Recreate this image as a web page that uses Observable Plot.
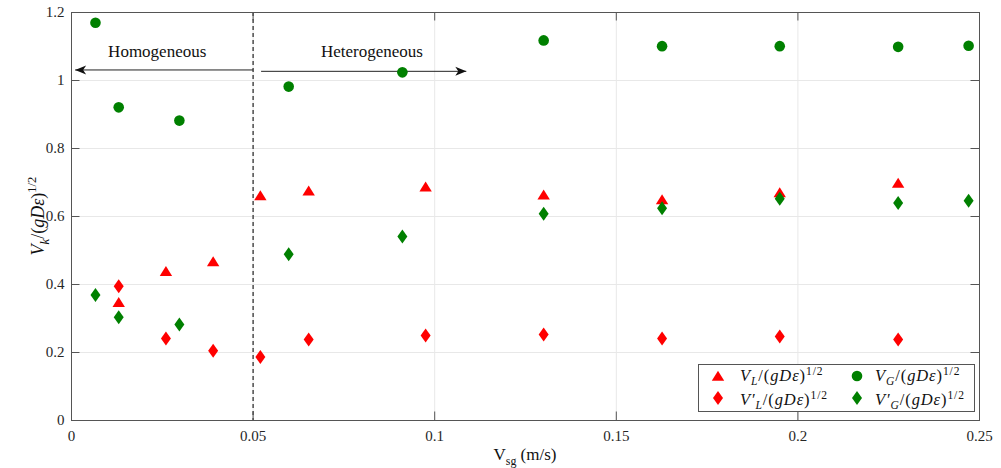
<!DOCTYPE html>
<html><head><meta charset="utf-8">
<script src="https://cdn.jsdelivr.net/npm/d3@7"></script>
<script src="https://cdn.jsdelivr.net/npm/@observablehq/plot@0.6"></script>
<style>
body{margin:0;background:#fff;}
#chart{width:1001px;height:468px;}
#chart svg, #chart svg text, #chart svg tspan{font-family:"Liberation Serif","Times New Roman","DejaVu Serif",serif !important;}
</style></head><body><div id="chart"></div>
<script>
// ---- data ----
const vgX  = [0.0066,0.013,0.0297,0.0598,0.0911,0.130,0.1626,0.195,0.2276,0.247];
const vgY  = [1.170,0.921,0.882,0.982,1.024,1.118,1.101,1.101,1.099,1.102];
const vgpY = [0.369,0.304,0.282,0.489,0.541,0.608,0.624,0.652,0.640,0.646];
const vlX  = [0.013,0.026,0.039,0.052,0.0653,0.0975,0.130,0.1626,0.195,0.2276];
const vlY  = [0.348,0.439,0.468,0.662,0.676,0.688,0.664,0.650,0.671,0.699];
const vlpY = [0.395,0.241,0.205,0.187,0.238,0.250,0.253,0.241,0.247,0.238];
const xTicks = [0,0.05,0.1,0.15,0.2,0.25];
const yTicks = [0,0.2,0.4,0.6,0.8,1,1.2];
const regimeBoundary = [0.05];
const regimeLabels = ["Homogeneous","Heterogeneous"];
const regimeLabelX = [0.0236,0.0827];
const regimeLabelY = [1.084,1.085];
const arrowFromX = [0.05,0.0522];
const arrowToX   = [0.001,0.1087];
const arrowY     = [1.031,1.027];

// ---- symbols ----
const triSym = {draw(c){c.moveTo(0,-5.2);c.lineTo(6.2,4.8);c.lineTo(-6.2,4.8);c.closePath();}};
const diaSym = {draw(c){c.moveTo(0,-7);c.lineTo(5,0);c.lineTo(0,7);c.lineTo(-5,0);c.closePath();}};
const headSym = {draw(c){c.moveTo(0,0);c.lineTo(4.5,11);c.lineTo(0,8);c.lineTo(-4.5,11);c.closePath();}};
const RED = "#ff0000", GREEN = "#008000", AX = "#555";
const FONT = '"Liberation Serif","Times New Roman",serif';

const inner = xTicks.slice(1,-1), innerY = yTicks.slice(1,-1);
const chart = Plot.plot({
  width: 1001, height: 468,
  marginLeft: 71, marginRight: 22, marginTop: 12, marginBottom: 48,
  x: {domain: [0,0.25]}, y: {domain: [0,1.2]},
  style: {fontFamily: FONT, fontSize: "15px", color: "#262626", background: "white"},
  marks: [
    Plot.gridX(inner, {stroke: "#e8e8e8", strokeOpacity: 1}),
    Plot.gridY(innerY, {stroke: "#e8e8e8", strokeOpacity: 1}),
    Plot.ruleX(regimeBoundary, {stroke: "#333", strokeWidth: 1.3, strokeDasharray: "4,3"}),
    Plot.axisX(xTicks, {tickSize: 0, tickPadding: 10, tickFormat: d => String(d), label: null, fontSize: 15}),
    Plot.axisY(yTicks, {tickSize: 0, tickPadding: 7, tickFormat: d => String(d), label: null, fontSize: 15}),
    Plot.ruleX(inner, {y1: 0, y2: 0.025, stroke: AX}),
    Plot.ruleX(inner, {y1: 1.2, y2: 1.175, stroke: AX}),
    Plot.ruleY(innerY, {x1: 0, x2: 0.00234, stroke: AX}),
    Plot.ruleY(innerY, {x1: 0.25, x2: 0.24766, stroke: AX}),
    Plot.frame({stroke: AX}),
    Plot.link(arrowToX, {x1: (d,i) => arrowFromX[i], x2: d => d, y1: (d,i) => arrowY[i], y2: (d,i) => arrowY[i], stroke: "#222", strokeWidth: 1}),
    Plot.dot(arrowToX, {x: d => d, y: (d,i) => arrowY[i], symbol: headSym, rotate: (d,i) => i === 0 ? -90 : 90, fill: "#111", stroke: "none"}),
    Plot.text(regimeLabels, {x: (d,i) => regimeLabelX[i], y: (d,i) => regimeLabelY[i], text: d => d, fontSize: 17, fill: "#111"}),
    Plot.dot(vlX, {x: d => d, y: (d,i) => vlY[i], symbol: triSym, fill: RED, stroke: "none"}),
    Plot.dot(vgX, {x: d => d, y: (d,i) => vgY[i], r: 5.3, fill: GREEN, stroke: "none"}),
    Plot.dot(vlX, {x: d => d, y: (d,i) => vlpY[i], symbol: diaSym, fill: RED, stroke: "none"}),
    Plot.dot(vgX, {x: d => d, y: (d,i) => vgpY[i], symbol: diaSym, fill: GREEN, stroke: "none"})
  ]
});
document.getElementById("chart").appendChild(chart);

// ---- math-style text helper ----
function mathText(g, parts, fs, attrs, subK = 0.28, supK = 0.42) {
  const t = g.append("text").attr("font-size", fs).attr("fill", "#111")
    .attr("font-family", FONT).attr("text-anchor", "start");
  for (const [k,v] of Object.entries(attrs)) t.attr(k, v);
  let cur = 0;
  for (const p of parts) {
    const target = p.sub ? subK*fs : p.sup ? -supK*fs : 0;
    const s = t.append("tspan").text(p.t)
      .attr("font-size", (p.sub || p.sup) ? fs*0.7 : fs)
      .attr("font-style", p.it ? "italic" : "normal")
      .attr("dy", target - cur);
    cur = target;
  }
  return t;
}
const frac = (sub, prime) => [
  {t: prime ? "V′" : "V", it: true}, {t: sub, it: true, sub: true},
  {t: "/(", it: false}, {t: "gDε", it: true}, {t: ")", it: false}, {t: "1/2", sup: true}
];

const svg = d3.select(chart);
const g = svg.append("g");
// x label
mathText(g, [{t: "V"}, {t: "sg", sub: true}, {t: " (m/s)"}], 17, {x: 525, y: 460, "text-anchor": "middle"});
// y label
mathText(g, frac("k", false), 18, {transform: "translate(44,216) rotate(-90)", "text-anchor": "middle"});

// legend
const lg = svg.append("g");
lg.append("rect").attr("x", 698.5).attr("y", 364.5).attr("width", 276).attr("height", 47)
  .attr("fill", "white").attr("stroke", AX);
const sym = (type, x, y, fill) => lg.append("path").attr("transform", `translate(${x},${y})`)
  .attr("d", d3.symbol(type)()).attr("fill", fill);
sym(triSym, 718, 376, RED);
lg.append("circle").attr("cx", 857).attr("cy", 376).attr("r", 5.3).attr("fill", GREEN);
sym(diaSym, 718, 398, RED);
sym(diaSym, 857, 398, GREEN);
const LS = {"letter-spacing": "0.9px"};
mathText(lg, frac("L", false), 16.5, {x: 740, y: 381, ...LS}, 0.24, 0.36);
mathText(lg, frac("G", false), 16.5, {x: 875, y: 381, ...LS}, 0.24, 0.36);
mathText(lg, frac("L", true), 16.5, {x: 740, y: 405, ...LS}, 0.24, 0.36);
mathText(lg, frac("G", true), 16.5, {x: 875, y: 405, ...LS}, 0.24, 0.36);
</script></body></html>
